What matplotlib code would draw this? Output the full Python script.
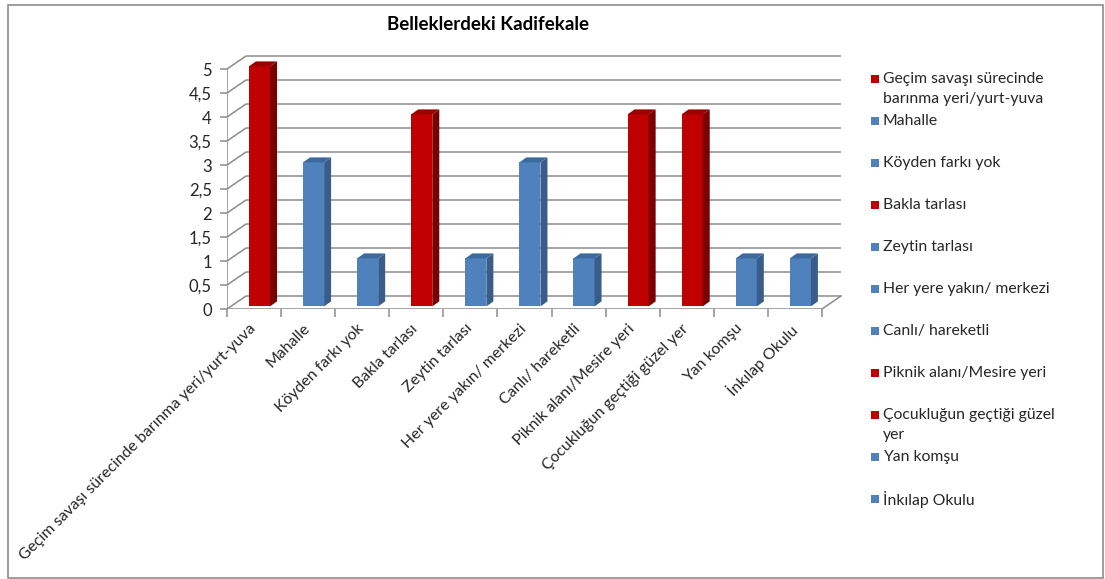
import textwrap
import matplotlib
matplotlib.use("Agg")
import matplotlib.pyplot as plt
from matplotlib.patches import Polygon, Rectangle

plt.rcParams['font.family'] = ['Lato', 'DejaVu Sans']

# chart data
title = "Belleklerdeki Kadifekale"
categories = ["Geçim savaşı sürecinde barınma yeri/yurt-yuva", "Mahalle", "Köyden farkı yok",
              "Bakla tarlası", "Zeytin tarlası", "Her yere yakın/ merkezi", "Canlı/ hareketli",
              "Piknik alanı/Mesire yeri", "Çocukluğun geçtiği güzel yer", "Yan komşu", "İnkılap Okulu"]
values = [5, 3, 1, 4, 1, 3, 1, 4, 4, 1, 1]
red_categories = ["Geçim savaşı sürecinde barınma yeri/yurt-yuva", "Bakla tarlası",
                  "Piknik alanı/Mesire yeri", "Çocukluğun geçtiği güzel yer"]
y_ticks = [0, 0.5, 1, 1.5, 2, 2.5, 3, 3.5, 4, 4.5, 5]
y_ticklabels = ["0", "0,5", "1", "1,5", "2", "2,5", "3", "3,5", "4", "4,5", "5"]

# colours (front, side, top)
RED = ("#C00000", "#7A0000", "#9A0000")
BLUE = ("#4F81BD", "#385D8A", "#3D6A9E")
GRID = "#8C8C8C"
TEXT = "#262626"

W, H = 1105, 579
PX_X = 54.09   # pixels per category
PX_Y = 48.0    # pixels per unit
DX = 19 / PX_X   # depth of the back wall
DY = 13 / PX_Y
n = len(categories)

fig = plt.figure(figsize=(W / 100, H / 100), dpi=100)
fig.patch.set_facecolor("white")

x0_px, y0_px = 227, 309
xmax, ymax = n + 0.4, 5.3
ax = fig.add_axes([x0_px / W, (H - y0_px) / H, xmax * PX_X / W, ymax * PX_Y / H])
ax.set_xlim(0, xmax)
ax.set_ylim(0, ymax)
for s in ax.spines.values():
    s.set_visible(False)

# back wall gridlines and side wall diagonals
for v in y_ticks:
    ax.plot([0, DX], [v, v + DY], color=GRID, lw=1.1, zorder=1, solid_capstyle="butt")
    ax.plot([DX, n + DX], [v + DY, v + DY], color=GRID, lw=1.1, zorder=1, solid_capstyle="butt")
# floor
ax.plot([0, n], [0, 0], color=GRID, lw=1.1, zorder=5)
ax.plot([n, n + DX], [0, DY], color=GRID, lw=1.1, zorder=5)
# front vertical axis
ax.plot([0, 0], [0, 5], color=GRID, lw=1.1, zorder=5)

# 3d looking bars
bw = 0.39
shift_x, shift_y = 0.1, 0.054
sx, sy = 7 / PX_X, 5 / PX_Y
for i, (cat, v) in enumerate(zip(categories, values)):
    front, side, top = RED if cat in red_categories else BLUE
    xa = i + 0.5 + shift_x - bw / 2
    xb = xa + bw
    yb = shift_y
    yt = v + shift_y
    ax.add_patch(Polygon([(xa, yb), (xb, yb), (xb, yt), (xa, yt)], closed=True,
                         facecolor=front, edgecolor="none", zorder=3))
    ax.add_patch(Polygon([(xb, yb), (xb + sx, yb + sy), (xb + sx, yt + sy), (xb, yt)], closed=True,
                         facecolor=side, edgecolor="none", zorder=3))
    ax.add_patch(Polygon([(xa, yt), (xb, yt), (xb + sx, yt + sy), (xa + sx, yt + sy)], closed=True,
                         facecolor=top, edgecolor="none", zorder=3))

# axes ticks and labels
ax.set_yticks(y_ticks, y_ticklabels)
ax.tick_params(axis="y", length=5, width=1.1, color=GRID, pad=6, labelsize=12, labelcolor=TEXT)
ax.set_xticks([i + 0.4 for i in range(n)], categories, rotation=45, ha="right",
              rotation_mode="anchor")
ax.set_xticks(range(n + 1), minor=True)
ax.tick_params(axis="x", which="major", length=0, pad=9, labelsize=11.4, labelcolor=TEXT)
ax.tick_params(axis="x", which="minor", length=6, width=1.1, color=GRID)

fig.text(488 / W, 1 - 25 / H, title, ha="center", va="center", fontsize=13.5,
         fontweight="bold", color="black")

# legend
for i, cat in enumerate(categories):
    yc = 79 + 42 * i
    col = RED[0] if cat in red_categories else BLUE[0]
    fig.patches.append(Rectangle((871 / W, 1 - (yc + 4) / H), 8 / W, 8 / H,
                                 transform=fig.transFigure, facecolor=col, edgecolor="none"))
    for j, line in enumerate(textwrap.fill(cat, 24).split("\n")):
        fig.text(883 / W, 1 - (yc + 20 * j) / H, line, ha="left", va="center",
                 fontsize=11.3, color=TEXT)

# outer border
fig.patches.append(Rectangle((8 / W, 1 / H), 1095 / W, 573.5 / H, transform=fig.transFigure,
                             facecolor="none", edgecolor="#8C8C8C", lw=1.2))

fig.savefig("out.png", dpi=100)
